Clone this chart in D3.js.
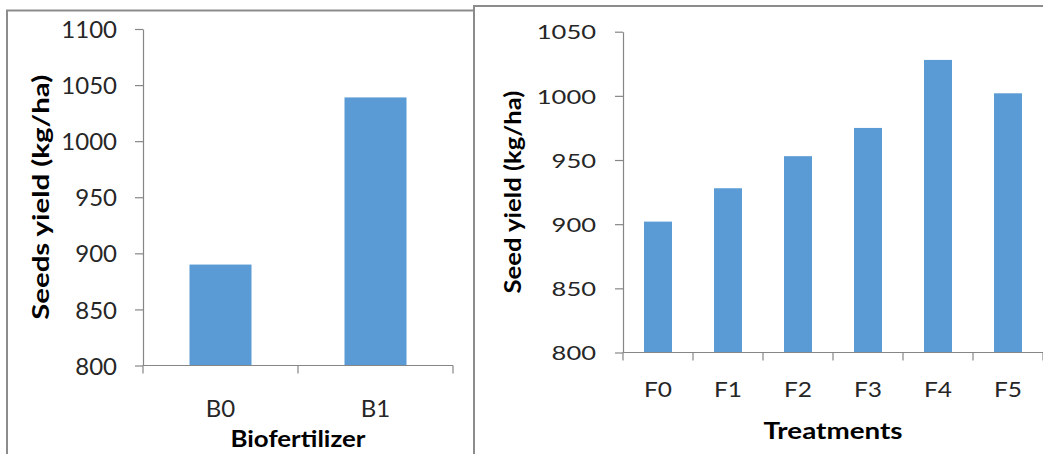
<!DOCTYPE html>
<html>
<head>
<meta charset="utf-8">
<script src="https://cdn.jsdelivr.net/npm/d3@7"></script>
<style>
  html, body { margin: 0; padding: 0; background: #fff; }
  svg { display: block; }
</style>
</head>
<body>
<svg id="chart" width="1043" height="454"></svg>
<script>
// ---- Data ----
const bioCategories = ["B0", "B1"];
const bioValues = [890, 1039];
const bioTicks = [800, 850, 900, 950, 1000, 1050, 1100];

const treatCategories = ["F0", "F1", "F2", "F3", "F4", "F5"];
const treatValues = [902, 928, 953, 975, 1028, 1002];
const treatTicks = [800, 850, 900, 950, 1000, 1050];

const leftYTitle = "Seeds yield (kg/ha)";
const leftXTitle = "Biofertilizer";
const rightYTitle = "Seed yield (kg/ha)";
const rightXTitle = "Treatments";

// ---- Drawing ----
const svg = d3.select("#chart");
const FONT = "Lato, 'Open Sans', sans-serif";
const AXIS = "#868686";
const BAR = "#5B9BD5";
const BORDER = "#8c8c8c";

// panel borders
svg.append("path")
  .attr("d", "M7,460 L7,10.5 L474,10.5")
  .attr("fill", "none").attr("stroke", BORDER).attr("stroke-width", 2);
svg.append("path")
  .attr("d", "M474,460 L474,6 L1045,6")
  .attr("fill", "none").attr("stroke", BORDER).attr("stroke-width", 2);

function drawChart(cfg) {
  const g = svg.append("g");
  const x = d3.scaleBand().domain(cfg.categories).range(cfg.xRange)
    .paddingInner(0.6).paddingOuter(0.3);
  const y = d3.scaleLinear().domain(cfg.yDomain).range(cfg.yRange);

  // bars
  g.selectAll("rect.bar").data(cfg.values).join("rect")
    .attr("class", "bar")
    .attr("x", (d, i) => x(cfg.categories[i]))
    .attr("width", x.bandwidth())
    .attr("y", d => y(d))
    .attr("height", d => y(cfg.yDomain[0]) - y(d))
    .attr("fill", BAR);

  // y axis
  const yAxis = d3.axisLeft(y).tickValues(cfg.ticks).tickSize(8).tickSizeOuter(0)
    .tickPadding(cfg.tickPad).tickFormat(d3.format("d"));
  const ya = g.append("g").attr("transform", `translate(${cfg.xRange[0]},0)`).call(yAxis);
  ya.select(".domain").attr("stroke", AXIS).attr("stroke-width", 1.2);
  ya.selectAll(".tick line").attr("stroke", AXIS).attr("stroke-width", 1.2);
  ya.selectAll(".tick text")
    .attr("font-family", FONT).attr("font-size", cfg.tickFont)
    .attr("fill", "#262626").attr("dy", "0.36em")
    .each(function(d) {
      if (cfg.digitW) {
        d3.select(this).attr("textLength", String(d).length * cfg.digitW)
          .attr("lengthAdjust", "spacingAndGlyphs");
      }
    });

  // x axis
  const y0 = y(cfg.yDomain[0]);
  const step = x.step();
  g.append("line")
    .attr("x1", cfg.xRange[0]).attr("x2", cfg.xRange[1])
    .attr("y1", y0).attr("y2", y0)
    .attr("stroke", AXIS).attr("stroke-width", 1.2);
  const bounds = d3.range(cfg.categories.length + 1).map(i => cfg.xRange[0] + i * step);
  g.selectAll("line.xt").data(bounds).join("line")
    .attr("class", "xt")
    .attr("x1", d => d).attr("x2", d => d)
    .attr("y1", y0).attr("y2", y0 + 8)
    .attr("stroke", AXIS).attr("stroke-width", 1.2);
  g.selectAll("text.xl").data(cfg.categories).join("text")
    .attr("class", "xl")
    .attr("x", d => x(d) + x.bandwidth() / 2)
    .attr("y", cfg.catBaseline)
    .attr("text-anchor", "middle")
    .attr("font-family", FONT).attr("font-size", cfg.catFont)
    .attr("fill", "#262626")
    .each(function() {
      if (cfg.catW) d3.select(this).attr("textLength", cfg.catW).attr("lengthAdjust", "spacingAndGlyphs");
    })
    .text(d => d);

  // x title
  g.append("text")
    .attr("x", (cfg.xRange[0] + cfg.xRange[1]) / 2)
    .attr("y", cfg.xTitleBaseline)
    .attr("text-anchor", "middle")
    .attr("font-family", FONT).attr("font-weight", "bold")
    .attr("font-size", cfg.xTitleFont).attr("fill", "#000")
    .attr("textLength", cfg.xTitleW).attr("lengthAdjust", "spacingAndGlyphs")
    .text(cfg.xTitle);

  // y title
  const cy = (cfg.yRange[0] + cfg.yRange[1]) / 2;
  g.append("text")
    .attr("transform", `translate(${cfg.yTitleBaseline},${cy}) rotate(-90)`)
    .attr("text-anchor", "middle")
    .attr("font-family", FONT).attr("font-weight", "bold")
    .attr("font-size", cfg.yTitleFont).attr("fill", "#000")
    .attr("textLength", cfg.yTitleW).attr("lengthAdjust", "spacingAndGlyphs")
    .text(cfg.yTitle);
}

drawChart({
  categories: bioCategories, values: bioValues, ticks: bioTicks,
  xRange: [143, 453], yDomain: [800, 1100], yRange: [365.5, 29],
  tickPad: 18, tickFont: 24, digitW: 0,
  catFont: 24, catW: 0, catBaseline: 416.5,
  xTitle: leftXTitle, xTitleFont: 23, xTitleW: 135, xTitleBaseline: 446.5,
  yTitle: leftYTitle, yTitleFont: 23, yTitleW: 245, yTitleBaseline: 48.5
});

drawChart({
  categories: treatCategories, values: treatValues, ticks: treatTicks,
  xRange: [623, 1043], yDomain: [800, 1050], yRange: [352.5, 31.7],
  tickPad: 19, tickFont: 20, digitW: 14.8,
  catFont: 21, catW: 28, catBaseline: 396.5,
  xTitle: rightXTitle, xTitleFont: 22, xTitleW: 139, xTitleBaseline: 438.5,
  yTitle: rightYTitle, yTitleFont: 23, yTitleW: 203, yTitleBaseline: 521
});
</script>
</body>
</html>
